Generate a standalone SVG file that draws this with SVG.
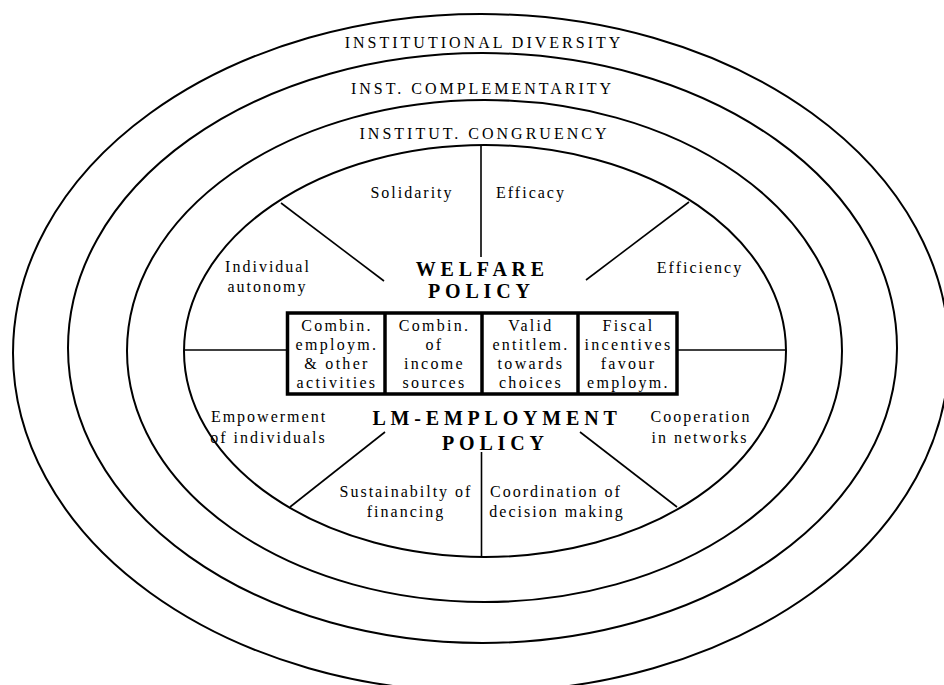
<svg xmlns="http://www.w3.org/2000/svg" width="944" height="685" viewBox="0 0 944 685">
<style>
.ring{fill:none;stroke:#000;stroke-width:2}
.spoke{stroke:#000;stroke-width:1.6;fill:none}
.box{fill:#fff;stroke:#000;stroke-width:3.5}
.div{stroke:#000;stroke-width:3.5}
text{font-family:"Liberation Serif","Times New Roman",serif;fill:#000;text-anchor:middle}
.rl{font-size:16px;letter-spacing:3px}
.t{font-size:16px;letter-spacing:2px}
.c{font-size:16px;letter-spacing:2.3px}
.h{font-size:20px;font-weight:bold;letter-spacing:4.8px}
</style>
<rect width="944" height="685" fill="#fff"/>
<g id="ring-diversity">
<ellipse class="ring" cx="481" cy="353" rx="468" ry="339"/>
<text class="rl" x="484" y="48">INSTITUTIONAL DIVERSITY</text>
</g>
<g id="ring-complementarity">
<ellipse class="ring" cx="482.5" cy="348" rx="414.5" ry="295"/>
<text class="rl" x="482.5" y="94">INST. COMPLEMENTARITY</text>
</g>
<g id="ring-congruency">
<ellipse class="ring" cx="484.5" cy="351" rx="357.5" ry="251"/>
<text class="rl" x="484.5" y="139">INSTITUT. CONGRUENCY</text>
</g>
<g id="policy-core">
<ellipse class="ring" cx="485" cy="351" rx="301" ry="206"/>
</g>
<g id="connectors">
<line class="spoke" x1="481" y1="145" x2="481" y2="257"/>
<line class="spoke" x1="281" y1="203" x2="384" y2="281"/>
<line class="spoke" x1="689" y1="202" x2="586" y2="280"/>
<line class="spoke" x1="184" y1="350" x2="288" y2="350"/>
<line class="spoke" x1="677" y1="350" x2="786" y2="350"/>
<line class="spoke" x1="385" y1="432" x2="290" y2="507"/>
<line class="spoke" x1="580" y1="432" x2="677" y2="507"/>
<line class="spoke" x1="481.5" y1="452" x2="481.5" y2="557"/>
</g>
<g id="welfare-policy">
<text class="h" x="482.4" y="276">WELFARE</text>
<text class="h" x="481.4" y="298">POLICY</text>
</g>
<g id="lm-employment-policy">
<text class="h" x="497" y="425">LM-EMPLOYMENT</text>
<text class="h" x="495.4" y="450">POLICY</text>
</g>
<g id="solidarity"><text class="t" x="412" y="198">Solidarity</text></g>
<g id="efficacy"><text class="t" x="531" y="198">Efficacy</text></g>
<g id="individual-autonomy">
<text class="t" x="268" y="272">Individual</text>
<text class="t" x="267.5" y="292">autonomy</text>
</g>
<g id="efficiency"><text class="t" x="700" y="273">Efficiency</text></g>
<g id="empowerment">
<text class="t" x="269" y="422">Empowerment</text>
<text class="t" x="268.5" y="443">of individuals</text>
</g>
<g id="cooperation">
<text class="t" x="701" y="422">Cooperation</text>
<text class="t" x="700" y="443">in networks</text>
</g>
<g id="sustainability">
<text class="t" x="406" y="497">Sustainabilty of</text>
<text class="t" x="406" y="517">financing</text>
</g>
<g id="coordination">
<text class="t" x="556" y="497">Coordination of</text>
<text class="t" x="557" y="517">decision making</text>
</g>
<g id="instruments">
<rect class="box" x="287.5" y="313" width="389.5" height="81"/>
<line class="div" x1="385" y1="313" x2="385" y2="394"/>
<line class="div" x1="482" y1="313" x2="482" y2="394"/>
<line class="div" x1="578" y1="313" x2="578" y2="394"/>
<g id="cell-combin-employm">
<text class="c" x="337" y="330.5">Combin.</text>
<text class="c" x="337" y="349.5">employm.</text>
<text class="c" x="337" y="368.5">&amp; other</text>
<text class="c" x="337" y="387.5">activities</text>
</g>
<g id="cell-combin-income">
<text class="c" x="434.5" y="330.5">Combin.</text>
<text class="c" x="434.5" y="349.5">of</text>
<text class="c" x="434.5" y="368.5">income</text>
<text class="c" x="434.5" y="387.5">sources</text>
</g>
<g id="cell-valid-entitlem">
<text class="c" x="531" y="330.5">Valid</text>
<text class="c" x="531" y="349.5">entitlem.</text>
<text class="c" x="531" y="368.5">towards</text>
<text class="c" x="531" y="387.5">choices</text>
</g>
<g id="cell-fiscal-incentives">
<text class="c" x="628.5" y="330.5">Fiscal</text>
<text class="c" x="628.5" y="349.5">incentives</text>
<text class="c" x="628.5" y="368.5">favour</text>
<text class="c" x="628.5" y="387.5">employm.</text>
</g>
</g>
</svg>
